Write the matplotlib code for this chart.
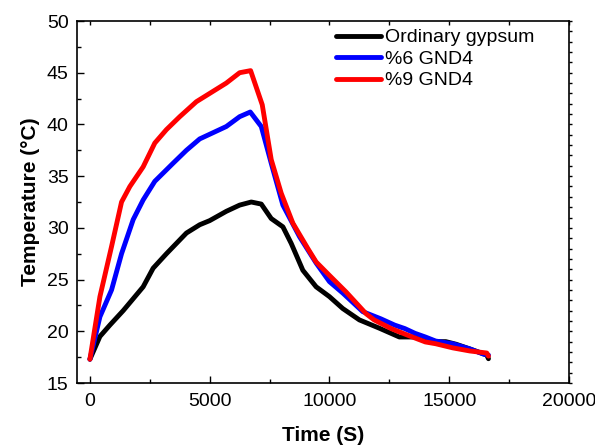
import matplotlib
matplotlib.use("Agg")
import matplotlib.pyplot as plt
from matplotlib.ticker import MultipleLocator

plt.rcParams['font.family'] = ['Liberation Sans', 'DejaVu Sans']

# Ordinary gypsum
t_ord = [0, 417, 833, 1390, 2222, 2639, 3194, 4028, 4583, 5000, 5694, 6250, 6736,
         7153, 7569, 8056, 8403, 8889, 9444, 10000, 10556, 11250, 12083, 12917,
         13860, 14430, 14857, 15285, 15855, 16567, 16638]
T_ord = [17.3, 19.5, 20.6, 22.0, 24.3, 26.1, 27.5, 29.5, 30.3, 30.7, 31.6, 32.2, 32.5,
         32.3, 30.9, 30.1, 28.5, 25.9, 24.3, 23.35, 22.2, 21.1, 20.3, 19.45,
         19.45, 19.0, 19.0, 18.75, 18.3, 17.7, 17.35]

# %6 GND4
t_6 = [0, 417, 903, 1320, 1806, 2222, 2708, 3472, 4028, 4583, 5139, 5694, 6250, 6694,
       7153, 7569, 8056, 8750, 9444, 10000, 10556, 11389, 12150, 12721, 13148,
       13575, 14003, 14430, 15142, 15855, 16425, 16638]
T_6 = [17.3, 21.4, 24.0, 27.5, 30.8, 32.7, 34.5, 36.25, 37.5, 38.6, 39.2, 39.8, 40.75, 41.2,
       39.8, 36.25, 32.2, 29.15, 26.6, 24.8, 23.7, 21.9, 21.2, 20.6, 20.26,
       19.8, 19.45, 19.06, 18.8, 18.3, 17.8, 17.7]

# %9 GND4
t_9 = [0, 417, 903, 1320, 1667, 2222, 2708, 3194, 3750, 4444, 5000, 5694, 6250, 6708,
       7194, 7569, 7986, 8472, 9097, 9444, 10000, 10694, 11528, 11866, 12578,
       13290, 14003, 14430, 15142, 15855, 16567, 16638]
T_9 = [17.3, 23.35, 28.2, 32.5, 34.0, 35.9, 38.2, 39.5, 40.75, 42.2, 43.0, 44.0, 45.0, 45.2,
       41.9, 36.6, 33.35, 30.45, 28.0, 26.7, 25.4, 23.8, 21.7, 21.1, 20.26,
       19.6, 18.97, 18.8, 18.4, 18.1, 17.9, 17.6]

labels = ["Ordinary gypsum", "%6 GND4", "%9 GND4"]
colors = ["#000000", "#0000ff", "#ff0000"]

fig = plt.figure(figsize=(5.95, 4.45), dpi=100)
ax = fig.add_axes([0.1294, 0.1393, 0.8269, 0.8135])

for t, T, lab, c in zip([t_ord, t_6, t_9], [T_ord, T_6, T_9], labels, colors):
    ax.plot(t, T, color=c, lw=3.5, label=lab, solid_capstyle='round', solid_joinstyle='round')

ax.set_xlim(-540, 20000)
ax.set_ylim(15, 50)
ax.xaxis.set_major_locator(MultipleLocator(5000))
ax.xaxis.set_minor_locator(MultipleLocator(2500))
ax.yaxis.set_major_locator(MultipleLocator(5))
ax.yaxis.set_minor_locator(MultipleLocator(2.5))
ax.tick_params(axis='both', which='major', direction='in', length=5, width=1,
               labelsize=14, top=False, right=False)
ax.tick_params(axis='both', which='minor', direction='in', length=3, width=1,
               top=False, right=False)
ax.tick_params(axis='x', pad=7)
ax.tick_params(axis='y', pad=6)

# top and right ticks
secx = ax.secondary_xaxis('top')
secx.xaxis.set_major_locator(MultipleLocator(2500))
secx.tick_params(direction='in', length=3, width=1, labeltop=False)
secx.spines['top'].set_visible(False)
secy = ax.secondary_yaxis('right')
secy.yaxis.set_major_locator(MultipleLocator(1))
secy.tick_params(direction='out', length=2, width=1, labelright=False)
secy.spines['right'].set_visible(False)

for s in ax.spines.values():
    s.set_linewidth(1.2)

ax.set_xlabel("Time (S)", fontsize=15, fontweight='bold', labelpad=12)
ax.set_ylabel("Temperature (°C)", fontsize=15, fontweight='bold', labelpad=5)

ax.legend(loc='upper right', fontsize=14, frameon=False, handlelength=2.3,
          handletextpad=0.2, labelspacing=0.2, borderaxespad=0.0,
          bbox_to_anchor=(0.945, 1.0))

fig.savefig("out.png", dpi=100)
